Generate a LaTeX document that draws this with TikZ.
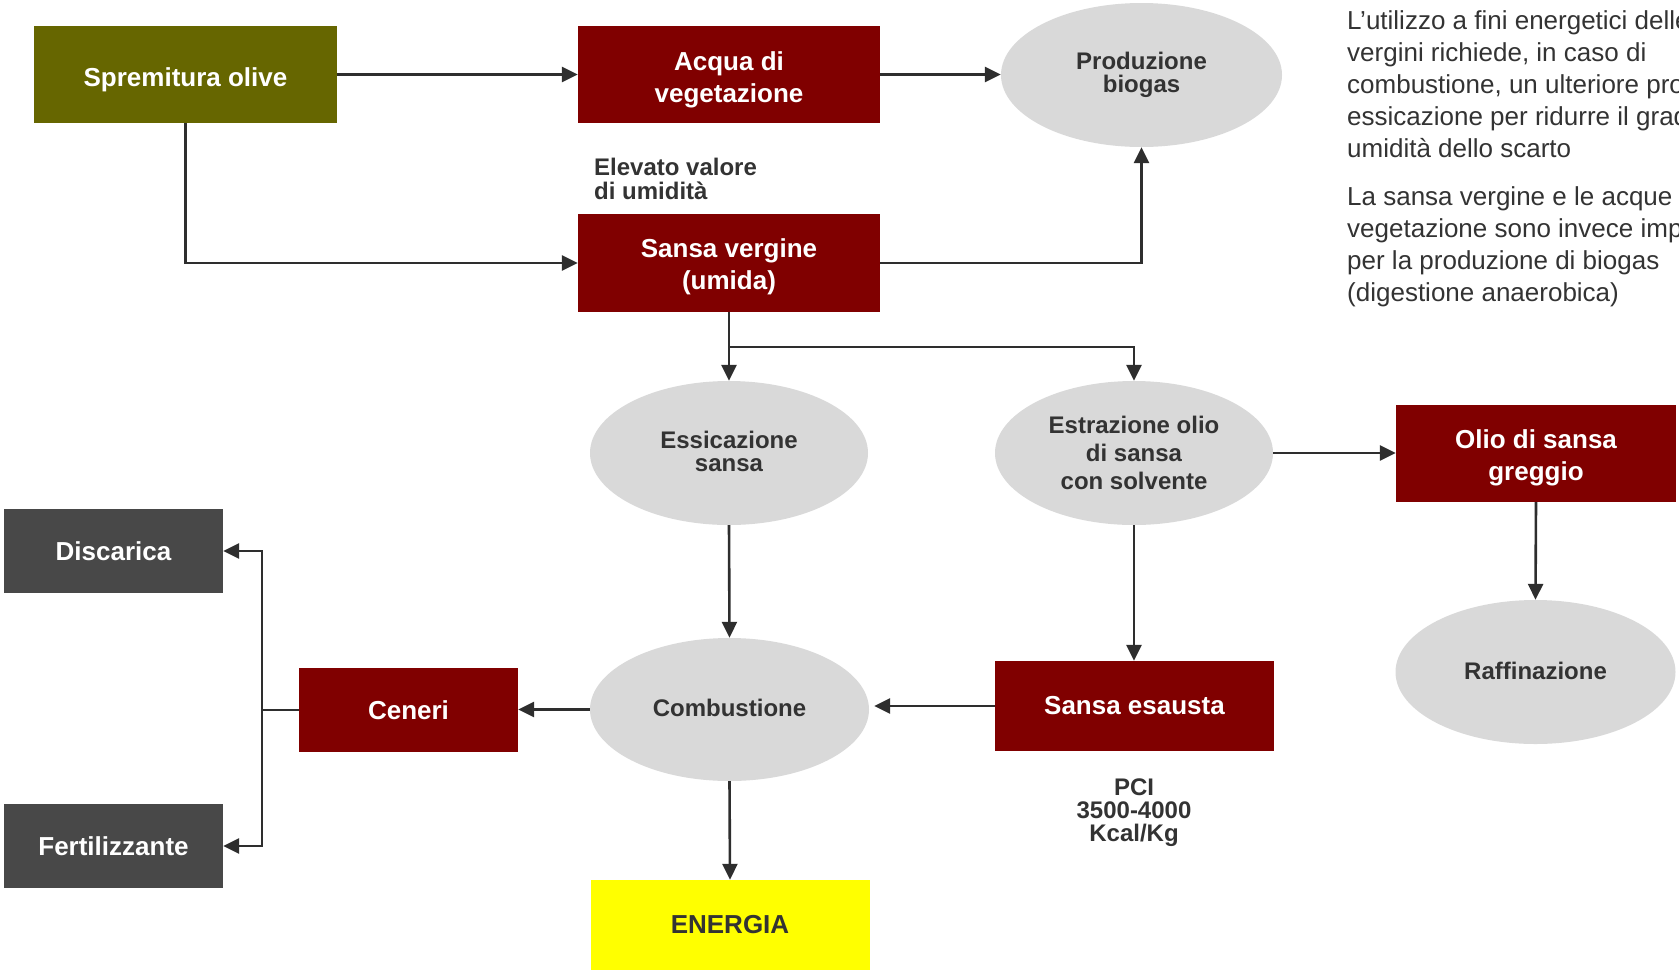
\documentclass[tikz,border=0pt]{standalone}
\usepackage{fontspec}
\setmainfont{Liberation Sans}
\usetikzlibrary{shapes.geometric,arrows.meta}
\definecolor{olivebox}{HTML}{666600}
\definecolor{redbox}{HTML}{800000}
\definecolor{greyell}{HTML}{D9D9D9}
\definecolor{darkbox}{HTML}{484848}
\definecolor{txtgrey}{HTML}{333333}
\definecolor{arrowc}{HTML}{2E2E2E}
\definecolor{energy}{HTML}{FFFF00}
\begin{document}
\begin{tikzpicture}[x=1pt,y=-1pt,
  box/.style={rectangle, inner sep=0pt, text=white, align=center, font=\bfseries\fontsize{26}{32}\selectfont},
  redb/.style={box, fill=redbox, minimum width=302pt, minimum height=97pt},
  grayb/.style={box, fill=darkbox, minimum width=219pt, minimum height=84pt},
  ell/.style={ellipse, fill=greyell, inner sep=0pt, text=txtgrey, align=center, minimum width=280pt, minimum height=144pt, font=\bfseries\fontsize{24}{23}\selectfont},
  arr/.style={draw=arrowc, line width=2.6pt, -{Triangle[length=16pt,width=15pt]}},
  plain/.style={draw=arrowc, line width=2.6pt},
  note/.style={inner sep=0pt, text=txtgrey, font=\bfseries\fontsize{24}{23.5}\selectfont},
  para/.style={anchor=north west, inner sep=0pt, align=left, text=txtgrey, font=\fontsize{26}{32}\selectfont}
]
\useasboundingbox (0,0) rectangle (1679,970);
\clip (0,0) rectangle (1679,970);

\node[box, fill=olivebox, minimum width=303pt, minimum height=97pt, text height=23pt, text depth=0pt] (spr) at (185.5,74.5) {Spremitura olive};
\node[redb, text height=55pt, text depth=0pt] (acq) at (729,74.5) {Acqua di\\vegetazione};
\node[ell, minimum width=281pt] (prod) at (1141.5,75) {Produzione\\biogas};
\node[note, anchor=west, align=left] (elev) at (594,179) {Elevato valore\\di umidità};
\node[redb, minimum height=98pt, text height=53pt, text depth=0pt] (sv) at (729,263) {Sansa vergine\\(umida)};
\coordinate (branch) at (729,347);
\node[ell, minimum width=278pt, text depth=4pt] (ess) at (729,453) {Essicazione\\sansa};
\node[ell, minimum width=278pt, font=\bfseries\fontsize{24}{28}\selectfont] (estr) at (1134,453) {Estrazione olio\\di sansa\\con solvente};
\node[redb, minimum width=280pt, text height=53pt, text depth=0pt] (olio) at (1536,453.5) {Olio di sansa\\greggio};
\node[ell, text depth=2pt] (raff) at (1535.5,672) {Raffinazione};
\node[ell, minimum width=279pt, minimum height=143pt, text depth=4pt] (comb) at (729.5,709.5) {Combustione};
\node[redb, minimum width=279pt, minimum height=90pt] (se) at (1134.5,706) {Sansa esausta};
\node[note, align=center, font=\bfseries\fontsize{24}{23}\selectfont, text depth=-1pt] (pci) at (1134,810) {PCI\\3500-4000\\Kcal/Kg};
\node[redb, minimum width=219pt, minimum height=84pt] (cen) at (408.5,710) {Ceneri};
\node[grayb] (disc) at (113.5,551) {Discarica};
\node[grayb] (fert) at (113.5,846) {Fertilizzante};
\node[box, fill=energy, text=txtgrey, minimum width=279pt, minimum height=90pt] (en) at (730,925) {ENERGIA};
\coordinate (fork) at (262,710);

\node[para] (p1) at (1347,10) {L’utilizzo a fini energetici delle\\vergini richiede, in caso di\\combustione, un ulteriore processo\\essicazione per ridurre il grado\\umidità dello scarto};
\node[para] (p2) at (1347,186) {La sansa vergine e le acque\\vegetazione sono invece impiegate\\per la produzione di biogas\\(digestione anaerobica)};

\draw[arr] (spr.east) -- (acq.west);
\draw[arr] (acq.east) -- (acq.east -| prod.west);
\draw[arr] (spr.south) |- (sv.west);
\draw[arr] (sv.east) -| (prod.south);
\draw[arr] (sv.south) -- (ess.north);
\draw[arr] (branch) -| (estr.north);
\draw[arr] (estr.east) -- (estr.east -| olio.west);
\draw[arr] (olio.south) -- (raff.north);
\draw[arr] (ess.south) -- (comb.north);
\draw[arr] (estr.south) -- (estr.south |- se.north);
\draw[arr, shorten >=5pt] (se.west) -- (se.west -| comb.east);
\draw[arr] (comb.west) -- (comb.west -| cen.east);
\draw[arr] (comb.south) -- (en.north);
\draw[plain] (cen.west) -- (fork);
\draw[arr] (fork) |- (disc.east);
\draw[arr] (fork) |- (fert.east);
\end{tikzpicture}
\end{document}
